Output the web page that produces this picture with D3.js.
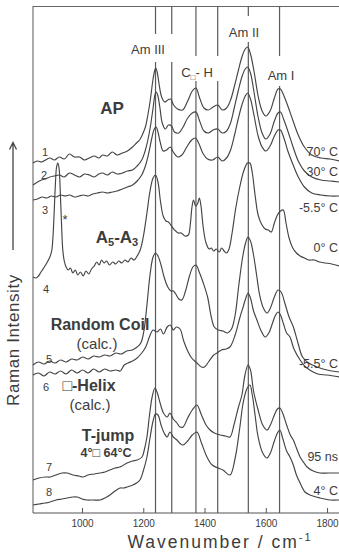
<!DOCTYPE html>
<html><head><meta charset="utf-8">
<script src="https://cdn.jsdelivr.net/npm/d3@7"></script>
<style>
html,body{margin:0;padding:0;background:#fff;}
svg{display:block;}
text{font-family:"Liberation Sans",Arial,sans-serif;fill:#3c3c3c;}
</style></head><body>
<svg id="c" width="339" height="552"></svg>
<script>
// ---------- data ----------
const wavenumberTicks = [1000, 1200, 1400, 1600, 1800];
const bandLines = [1240, 1293, 1372, 1443, 1543, 1645];
const bandLabels = ["Am III", "C", "Am II", "Am I"];
const traceNumbers = ["1", "2", "3", "4", "5", "6", "7", "8"];
const conditionLabels = ["70° C", "30° C", "-5.5° C", "0° C", "-5.5° C", "", "95 ns", "4° C"];
const sampleLabels = ["AP", "A", "Random Coil", "(calc.)", "□-Helix", "(calc.)", "T-jump", "4°□ 64°C"];
const xTitle = "Wavenumber / cm";
const yTitle = "Raman Intensity";

// spectra: [wavenumber cm-1, intensity (arb. units, stacked)]
const spectrum1 = [[840,350],[855,352],[868,351],[881,353],[895,355],[910,353],[926,356],[942,354],[959,359],[975,356],[992,356],[1008,353],[1024,355],[1040,357],[1055,355],[1067,358],[1083,357],[1099,361],[1115,358],[1132,360],[1148,362],[1165,366],[1178,370],[1188,373],[1198,379],[1207,386],[1215,398],[1223,413],[1231,432],[1237,442],[1241,445],[1246,440],[1252,428],[1260,416],[1270,411],[1280,413],[1289,414],[1299,408],[1312,404],[1328,403],[1345,412],[1360,422],[1372,425],[1384,415],[1398,405],[1412,403],[1428,406],[1443,408],[1458,403],[1472,405],[1485,413],[1497,426],[1510,442],[1522,456],[1533,464],[1541,466],[1550,459],[1562,441],[1575,417],[1588,402],[1600,397],[1614,402],[1628,415],[1640,424],[1648,424],[1658,418],[1672,407],[1688,393],[1706,378],[1726,366],[1750,358],[1780,355],[1810,354],[1840,352]];
const spectrum2 = [[840,328],[855,331],[868,333],[881,334],[895,336],[910,337],[926,338],[942,336],[959,340],[975,338],[992,336],[1008,339],[1024,338],[1040,336],[1055,339],[1067,340],[1083,338],[1099,341],[1115,339],[1132,340],[1148,342],[1165,343],[1180,347],[1195,353],[1206,362],[1215,373],[1224,388],[1232,405],[1238,418],[1242,421],[1247,418],[1254,406],[1262,390],[1272,384],[1282,388],[1292,387],[1302,381],[1316,380],[1330,386],[1345,395],[1360,400],[1372,401],[1384,392],[1398,382],[1412,380],[1428,383],[1443,384],[1458,380],[1472,382],[1485,390],[1497,405],[1510,422],[1522,436],[1533,444],[1541,446],[1550,440],[1562,420],[1575,396],[1588,380],[1600,374],[1614,379],[1628,392],[1640,400],[1648,401],[1658,394],[1672,382],[1688,367],[1706,352],[1726,342],[1750,336],[1780,333],[1810,332],[1840,331]];
const spectrum3 = [[840,313],[855,314],[870,316],[885,315],[900,317],[915,316],[930,318],[945,317],[960,318],[975,316],[990,317],[1005,318],[1020,317],[1035,319],[1050,320],[1067,321],[1083,320],[1099,321],[1115,322],[1132,324],[1148,326],[1165,328],[1180,332],[1195,338],[1208,348],[1218,360],[1228,375],[1236,384],[1242,386],[1248,381],[1256,370],[1265,362],[1276,363],[1288,366],[1298,361],[1312,356],[1326,358],[1342,366],[1358,373],[1370,375],[1382,369],[1396,359],[1410,354],[1426,353],[1443,356],[1458,352],[1472,355],[1485,363],[1498,378],[1510,394],[1522,408],[1533,417],[1541,420],[1550,414],[1562,397],[1575,377],[1588,366],[1600,362],[1614,367],[1628,377],[1640,383],[1648,383],[1658,376],[1672,362],[1688,349],[1706,336],[1726,326],[1750,320],[1780,318],[1810,317],[1840,317]];
const spectrum4 = [[840,236],[850,235],[858,237],[866,241],[875,245],[885,250],[895,256],[901,262],[905,275],[909,300],[913,328],[917,346],[921,350],[925,345],[929,322],[933,290],[937,264],[942,252],[948,246],[955,243],[962,245],[970,240],[978,243],[986,238],[995,241],[1004,237],[1013,242],[1022,239],[1031,244],[1040,247],[1048,251],[1056,248],[1064,253],[1072,250],[1080,252],[1090,248],[1100,251],[1110,249],[1120,252],[1130,250],[1140,253],[1150,251],[1160,255],[1170,253],[1180,257],[1190,263],[1200,276],[1212,300],[1222,322],[1232,335],[1240,338],[1248,331],[1256,312],[1265,297],[1274,292],[1282,291],[1292,287],[1302,283],[1314,280],[1324,280],[1336,277],[1347,278],[1354,290],[1359,306],[1364,313],[1371,307],[1377,309],[1383,315],[1388,308],[1396,285],[1405,270],[1415,264],[1422,265],[1430,262],[1438,264],[1448,261],[1456,265],[1464,262],[1472,260],[1480,264],[1490,280],[1502,305],[1515,326],[1528,342],[1540,350],[1548,350],[1556,340],[1565,318],[1575,298],[1586,289],[1598,284],[1608,283],[1618,281],[1628,290],[1638,298],[1648,302],[1657,303],[1666,290],[1676,275],[1688,265],[1700,260],[1712,257],[1726,255],[1740,253],[1758,253],[1775,251],[1795,250],[1815,249],[1840,247]];
const spectrum5 = [[840,148],[858,151],[876,149],[894,152],[912,150],[930,153],[948,151],[966,154],[984,153],[1002,156],[1020,154],[1038,157],[1056,156],[1074,158],[1092,157],[1110,160],[1128,159],[1146,162],[1164,163],[1180,166],[1192,170],[1202,182],[1212,208],[1222,238],[1232,256],[1240,260],[1248,257],[1258,248],[1268,236],[1280,226],[1290,222],[1298,222],[1306,219],[1316,214],[1326,213],[1338,222],[1350,236],[1362,246],[1372,248],[1384,240],[1396,230],[1410,216],[1422,196],[1432,186],[1445,183],[1460,182],[1475,180],[1488,184],[1500,198],[1512,228],[1524,255],[1534,270],[1542,276],[1550,272],[1560,258],[1570,238],[1580,218],[1592,205],[1604,200],[1615,205],[1628,216],[1640,223],[1650,221],[1662,210],[1676,196],[1690,186],[1705,170],[1720,156],[1740,150],[1768,146],[1800,143],[1840,141]];
const spectrum6 = [[840,138],[858,140],[876,137],[894,141],[912,139],[930,142],[948,139],[966,143],[984,140],[1002,143],[1020,140],[1038,144],[1056,141],[1074,144],[1092,142],[1110,143],[1125,142],[1138,148],[1150,150],[1165,152],[1180,155],[1195,160],[1208,166],[1220,176],[1232,183],[1245,181],[1256,184],[1266,179],[1278,186],[1288,188],[1298,183],[1308,186],[1320,184],[1332,172],[1345,162],[1358,155],[1375,150],[1390,146],[1400,146],[1415,152],[1430,158],[1441,160],[1455,163],[1470,164],[1483,166],[1500,178],[1515,195],[1526,206],[1535,215],[1542,220],[1550,215],[1560,202],[1571,193],[1585,182],[1598,176],[1610,180],[1622,190],[1632,198],[1640,201],[1648,198],[1658,189],[1668,180],[1679,176],[1692,164],[1712,153],[1730,146],[1744,143],[1770,139],[1800,138],[1840,136]];
const spectrum7 = [[840,33],[860,35],[880,36],[896,36],[915,38],[935,40],[951,40],[970,38],[990,37],[1003,36],[1020,38],[1040,39],[1059,40],[1075,41],[1091,43],[1108,45],[1124,46],[1147,50],[1165,52],[1180,53],[1196,56],[1204,64],[1212,76],[1220,97],[1229,116],[1238,125],[1246,120],[1255,110],[1266,100],[1278,96],[1287,100],[1298,94],[1310,90],[1320,86],[1330,86],[1345,95],[1360,103],[1375,108],[1390,98],[1405,88],[1418,83],[1432,80],[1451,78],[1468,77],[1483,76],[1496,88],[1510,105],[1522,118],[1532,138],[1542,148],[1550,143],[1560,122],[1575,103],[1590,88],[1604,83],[1615,88],[1628,98],[1638,104],[1646,105],[1655,100],[1668,88],[1680,78],[1690,73],[1700,65],[1712,56],[1725,50],[1735,46],[1755,42],[1777,40],[1805,40],[1840,40]];
const spectrum8 = [[840,8],[860,9],[880,10],[896,11],[915,13],[935,14],[951,15],[970,16],[984,16],[1000,14],[1016,13],[1035,13],[1059,13],[1075,15],[1091,18],[1108,22],[1124,25],[1135,25],[1147,26],[1158,27],[1166,28],[1178,30],[1189,33],[1200,42],[1212,56],[1222,75],[1232,92],[1240,99],[1248,98],[1258,88],[1268,80],[1278,76],[1287,81],[1298,76],[1310,73],[1322,69],[1330,68],[1345,72],[1360,78],[1375,81],[1390,70],[1408,56],[1425,48],[1444,45],[1460,43],[1483,38],[1500,55],[1515,85],[1526,110],[1538,124],[1548,128],[1556,118],[1565,98],[1575,76],[1590,60],[1604,55],[1615,60],[1628,72],[1638,80],[1646,83],[1655,75],[1668,62],[1679,56],[1690,48],[1700,38],[1712,30],[1728,21],[1744,18],[1777,15],[1810,13],[1840,13]];
const spectra = [spectrum1, spectrum2, spectrum3, spectrum4, spectrum5, spectrum6, spectrum7, spectrum8];

(function () {
  const W = 339, H = 552;
  const pL = 33, pR = 339.3, pT = 6.5, pB = 513;
  const svg = d3.select("#c");
  svg.append("rect").attr("width", W).attr("height", H).attr("fill", "#fff");

  const x = d3.scaleLinear().domain([840, 1840]).range([pL, pR]);
  const y = d3.scaleLinear().domain([0, pB - pT]).range([pB, pT]);
  const ink = "#444";

  // frame (left + top)
  svg.append("path")
    .attr("d", `M${pL},${pB}V${pT}H${W}`)
    .attr("fill", "none").attr("stroke", "#666").attr("stroke-width", 1.1);

  // band reference lines
  svg.append("g").selectAll("line").data(bandLines).join("line")
    .attr("x1", d => x(d)).attr("x2", d => x(d))
    .attr("y1", y(y.domain()[1])).attr("y2", y(0))
    .attr("stroke", "#5a5a5a").attr("stroke-width", 1.2);

  // gaps behind band labels
  const gapBoxes = [[125, 34, 176, 62], [176, 56, 221, 81], [226, 16, 262, 42], [264, 56, 297, 86]];
  svg.append("g").selectAll("rect").data(gapBoxes).join("rect")
    .attr("x", d => d[0]).attr("y", d => d[1])
    .attr("width", d => d[2] - d[0]).attr("height", d => d[3] - d[1])
    .attr("fill", "#fff");

  // band labels
  const bl = svg.append("g").attr("font-size", 13).attr("text-anchor", "middle");
  bl.append("text").attr("x", 148).attr("y", 54).text(bandLabels[0]);
  const ch = bl.append("text").attr("x", 197).attr("y", 77);
  ch.append("tspan").text(bandLabels[1]);
  ch.append("tspan").attr("font-size", 8).attr("dy", 3).text("□");
  ch.append("tspan").attr("dy", -3).text("- H");
  bl.append("text").attr("x", 244).attr("y", 37).text(bandLabels[2]);
  bl.append("text").attr("x", 281).attr("y", 80).text(bandLabels[3]);

  // x axis
  const axis = d3.axisBottom(x).tickValues(wavenumberTicks).tickFormat(d3.format("d"))
    .tickSizeInner(-5).tickSizeOuter(0).tickPadding(7);
  const ax = svg.append("g").attr("transform", `translate(0,${pB})`).call(axis);
  ax.select(".domain").attr("stroke", "#555").attr("stroke-width", 1.1).attr("d", `M${pL},0H${W}`);
  ax.selectAll(".tick line").attr("stroke", "#555");
  ax.selectAll(".tick text").attr("font-size", 10).attr("fill", "#555")
    .attr("font-family", '"Liberation Sans",Arial,sans-serif');

  // axis titles
  const xt = svg.append("text").attr("x", 220).attr("y", 548).attr("text-anchor", "middle")
    .attr("font-size", 17.5).attr("letter-spacing", 2).attr("fill", "#444");
  xt.append("tspan").text(xTitle);
  xt.append("tspan").attr("font-size", 11).attr("dy", -7).text("-1");

  svg.append("text").attr("transform", "translate(19,340) rotate(-90)")
    .attr("text-anchor", "middle").attr("font-size", 17).attr("letter-spacing", 0.6)
    .attr("fill", "#444").text(yTitle);
  svg.append("path").attr("d", "M13,250V143M9.5,149.5L13,142.5L16.5,149.5")
    .attr("fill", "none").attr("stroke", "#444").attr("stroke-width", 1.3);

  // spectra
  const line = d3.line().x(d => x(d[0])).y(d => y(d[1])).curve(d3.curveCatmullRom.alpha(0.5));
  svg.append("g").selectAll("path").data(spectra).join("path")
    .attr("d", line).attr("fill", "none").attr("stroke", ink).attr("stroke-width", 1.15)
    .attr("stroke-linejoin", "round");

  // trace numbers
  const numPos = [[42, 156], [41, 179], [42, 214], [43, 293], [46, 363], [43, 391], [46, 471], [46, 496]];
  svg.append("g").attr("font-size", 11).selectAll("text").data(traceNumbers).join("text")
    .attr("x", (d, i) => numPos[i][0]).attr("y", (d, i) => numPos[i][1]).text(d => d);

  // condition labels (right)
  const condY = [156, 176, 212, 252, 368, 0, 461, 495];
  svg.append("g").attr("font-size", 12.5).attr("text-anchor", "end").selectAll("text")
    .data(conditionLabels).join("text")
    .attr("x", 338).attr("y", (d, i) => condY[i]).text(d => d);

  // sample labels
  svg.append("text").attr("x", 112).attr("y", 114).attr("text-anchor", "middle")
    .attr("font-size", 17).attr("font-weight", "bold").text(sampleLabels[0]);
  const a53 = svg.append("text").attr("x", 117).attr("y", 243).attr("text-anchor", "middle")
    .attr("font-size", 17).attr("font-weight", "bold");
  a53.append("tspan").text(sampleLabels[1]);
  a53.append("tspan").attr("font-size", 11).attr("dy", 3).text("5");
  a53.append("tspan").attr("dy", -3).text("-A");
  a53.append("tspan").attr("font-size", 11).attr("dy", 3).text("3");
  svg.append("text").attr("x", 100).attr("y", 330).attr("text-anchor", "middle")
    .attr("font-size", 16).attr("font-weight", "bold").attr("fill", "#555").text(sampleLabels[2]);
  svg.append("text").attr("x", 97).attr("y", 349).attr("text-anchor", "middle")
    .attr("font-size", 15).attr("fill", "#555").text(sampleLabels[3]);
  svg.append("text").attr("x", 89).attr("y", 391).attr("text-anchor", "middle")
    .attr("font-size", 16).attr("font-weight", "bold").attr("fill", "#555").text(sampleLabels[4]);
  svg.append("text").attr("x", 90).attr("y", 410).attr("text-anchor", "middle")
    .attr("font-size", 15).attr("fill", "#555").text(sampleLabels[5]);
  svg.append("text").attr("x", 108).attr("y", 441).attr("text-anchor", "middle")
    .attr("font-size", 16).attr("font-weight", "bold").attr("fill", "#555").text(sampleLabels[6]);
  svg.append("text").attr("x", 106).attr("y", 457).attr("text-anchor", "middle")
    .attr("font-size", 12.5).attr("font-weight", "bold").attr("fill", "#555").text(sampleLabels[7]);
  svg.append("text").attr("x", 65).attr("y", 224).attr("text-anchor", "middle")
    .attr("font-size", 13).attr("fill", "#444").text("*");
})();
</script>
</body></html>
